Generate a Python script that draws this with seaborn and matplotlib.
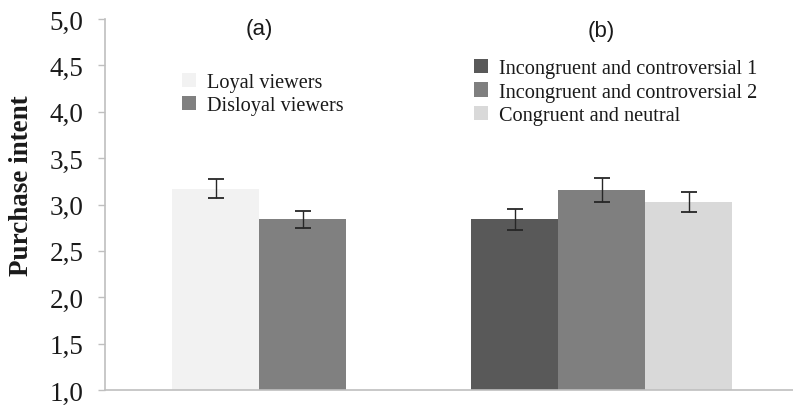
import matplotlib
matplotlib.use("Agg")
import matplotlib.pyplot as plt
from matplotlib.patches import Patch
import seaborn as sns
import pandas as pd

# Purchase intent by viewer loyalty (a) and by sponsor type (b)
loyalty_labels = ["Loyal viewers", "Disloyal viewers"]
loyalty_means = [3.17, 2.84]
loyalty_errors = [0.10, 0.09]
loyalty_colors = ["#f2f2f2", "#808080"]

sponsor_labels = ["Incongruent and controversial 1",
                  "Incongruent and controversial 2",
                  "Congruent and neutral"]
sponsor_means = [2.84, 3.16, 3.03]
sponsor_errors = [0.11, 0.13, 0.11]
sponsor_colors = ["#595959", "#7f7f7f", "#d9d9d9"]

panel_titles = ["(a)", "(b)"]
y_ticks = [1.0, 1.5, 2.0, 2.5, 3.0, 3.5, 4.0, 4.5, 5.0]
y_label = "Purchase intent"

# bar centres, in bar-width units, for each panel group
group_starts = [0.776, 4.213]
pos_a = [group_starts[0] + 0.5 + i for i in range(len(loyalty_labels))]
pos_b = [group_starts[1] + 0.5 + i for i in range(len(sponsor_labels))]

df = pd.DataFrame({
    "pos": pos_a + pos_b,
    "mean": loyalty_means + sponsor_means,
    "err": loyalty_errors + sponsor_errors,
    "label": loyalty_labels + sponsor_labels,
})
palette = dict(zip(loyalty_labels + sponsor_labels, loyalty_colors + sponsor_colors))

sns.set_style("white")
fig = plt.figure(figsize=(7.93, 4.06), dpi=100)
ax = fig.add_axes([104.5 / 793, 15 / 406, 1 - 104.5 / 793, 371 / 406])

sns.barplot(data=df, x="pos", y="mean", hue="label", palette=palette,
            native_scale=True, dodge=False, width=1.0, errorbar=None,
            legend=False, saturation=1.0, linewidth=0, ax=ax)
ax.errorbar(df["pos"], df["mean"], yerr=df["err"], fmt="none",
            ecolor="#262626", elinewidth=1.0, capsize=5.5, capthick=1.3, zorder=5)

ax.set_xlim(0, 7.914)
ax.set_ylim(1.0, 5.0)
ax.set_yticks(y_ticks)
ax.set_yticklabels([f"{t:.1f}".replace(".", ",") for t in y_ticks],
                   fontfamily="Liberation Serif", fontsize=19.5, color="#1a1a1a")
ax.set_xticks([])
ax.set_xlabel("")
ax.set_ylabel("")
ax.tick_params(axis="y", direction="out", length=5, width=1,
               color="#bfbfbf", pad=10, left=True)

for side in ["top", "right"]:
    ax.spines[side].set_visible(False)
for side in ["left", "bottom"]:
    ax.spines[side].set_color("#bfbfbf")
    ax.spines[side].set_linewidth(1.2)

fig.text(22 / 793, 1 - 186 / 406, y_label, rotation=90, ha="center", va="center",
         fontfamily="Liberation Serif", fontweight="bold", fontsize=19.5, color="#1a1a1a")

# panel titles above each group
for title, start, n, ty in [(panel_titles[0], group_starts[0], 2, 4.90),
                            (panel_titles[1], group_starts[1], 3, 4.88)]:
    ax.text(start + n / 2, ty, title, ha="center", va="center",
            fontfamily="Liberation Sans", fontsize=16, color="#1a1a1a")

legend_font = {"family": "Liberation Serif", "size": 14.6}
legend_kw = dict(loc="upper left", frameon=False, prop=legend_font,
                 handlelength=0.7, handleheight=0.7, handletextpad=0.55,
                 labelspacing=0.2, borderaxespad=0, borderpad=0,
                 labelcolor="#1a1a1a")
handles_a = [Patch(facecolor=c, edgecolor="none", label=l)
             for l, c in zip(loyalty_labels, loyalty_colors)]
leg_a = ax.legend(handles=handles_a, bbox_to_anchor=(0.1126, 0.8545), **legend_kw)
ax.add_artist(leg_a)
handles_b = [Patch(facecolor=c, edgecolor="none", label=l)
             for l, c in zip(sponsor_labels, sponsor_colors)]
ax.legend(handles=handles_b, bbox_to_anchor=(0.5367, 0.892), **legend_kw)

fig.savefig("out.png", dpi=100)
